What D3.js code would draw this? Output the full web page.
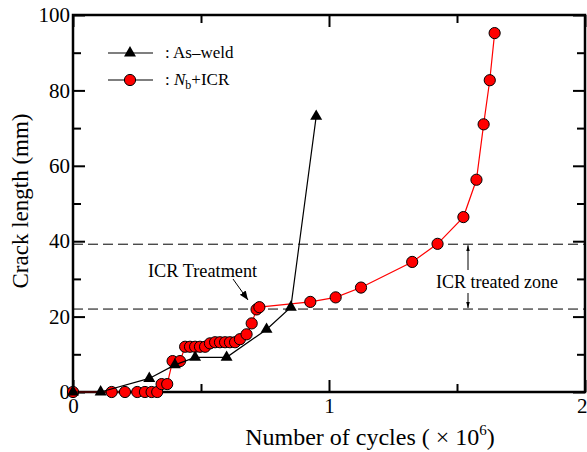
<!DOCTYPE html>
<html>
<head>
<meta charset="utf-8">
<script src="https://cdn.jsdelivr.net/npm/d3@7"></script>
<style>
  html, body { margin: 0; padding: 0; background: #fff; }
  svg { display: block; font-family: "Liberation Serif", "Times New Roman", serif; }
</style>
</head>
<body>
<svg id="chart" width="587" height="452"></svg>
<script>
// Crack growth data: cycles in units of 10^6, crack length in mm
const asWeldCycles = [0, 0.108, 0.298, 0.398, 0.477, 0.600, 0.756, 0.851, 0.950];
const asWeldCrack  = [0, 0, 3.6, 7.2, 9.2, 9.2, 16.6, 22.5, 73.1];

const icrCycles = [0, 0.151, 0.203, 0.251, 0.281, 0.307, 0.329, 0.346, 0.368, 0.389, 0.418,
                   0.438, 0.457, 0.477, 0.496, 0.516, 0.535, 0.555, 0.574, 0.594, 0.613, 0.633,
                   0.652, 0.678, 0.698, 0.717, 0.728, 0.927, 1.026, 1.125, 1.325, 1.424,
                   1.525, 1.576, 1.604, 1.628, 1.647];
const icrCrack  = [0, 0, 0, 0, 0, 0, 0, 2.1, 2.1, 8.2, 8.2,
                   12.0, 12.0, 12.0, 12.0, 12.0, 12.9, 13.2, 13.2, 13.2, 13.2, 13.2,
                   14.0, 15.3, 18.2, 21.9, 22.5, 23.9, 25.1, 27.7, 34.5, 39.3,
                   46.4, 56.3, 71.0, 82.7, 95.2];

// Boundaries of the ICR treated zone (mm)
const zoneBounds = [22.0, 39.2];

const xMajorTicks = [0, 1, 2];
const xMinorTicks = [0.5, 1.5];
const yMajorTicks = [0, 20, 40, 60, 80, 100];
const yMinorTicks = [10, 30, 50, 70, 90];

const seriesNames = ["As\u2013weld", "Nb+ICR"];

const svg = d3.select("#chart");
const plotLeft = 73, plotRight = 585, plotTop = 15, plotBottom = 392;

const x = d3.scaleLinear().domain([0, 2]).range([plotLeft, plotRight]);
const y = d3.scaleLinear().domain([0, 100]).range([plotBottom, plotTop]);

// Dashed boundary lines of the treated zone
svg.append("g").selectAll("line").data(zoneBounds).join("line")
  .attr("x1", x(0)).attr("x2", x(2))
  .attr("y1", d => y(d)).attr("y2", d => y(d))
  .attr("stroke", "#000").attr("stroke-width", 1)
  .attr("stroke-dasharray", "10,5");

// Axes with inward ticks
function styleAxis(g) {
  g.select(".domain").remove();
  g.selectAll(".tick line").attr("stroke", "#000").attr("stroke-width", 2);
  g.selectAll(".tick text").attr("font-size", 21).attr("fill", "#000")
    .attr("font-family", "Liberation Serif, serif");
}

const xAxisG = svg.append("g").attr("transform", `translate(0,${plotBottom})`)
  .call(d3.axisBottom(x).tickValues(xMajorTicks).tickSize(-12).tickPadding(6).tickFormat(d3.format("d")))
  .call(styleAxis);
// keep the last label inside the page edge
xAxisG.selectAll(".tick text").filter(d => d === xMajorTicks[xMajorTicks.length - 1])
  .attr("text-anchor", "end").attr("dx", 2);
svg.append("g").attr("transform", `translate(0,${plotBottom})`)
  .call(d3.axisBottom(x).tickValues(xMinorTicks).tickSize(-8).tickFormat(""))
  .call(styleAxis);
svg.append("g").attr("transform", `translate(0,${plotTop})`)
  .call(d3.axisTop(x).tickValues(xMajorTicks).tickSize(-12).tickFormat(""))
  .call(styleAxis);
svg.append("g").attr("transform", `translate(0,${plotTop})`)
  .call(d3.axisTop(x).tickValues(xMinorTicks).tickSize(-8).tickFormat(""))
  .call(styleAxis);

svg.append("g").attr("transform", `translate(${plotLeft},0)`)
  .call(d3.axisLeft(y).tickValues(yMajorTicks).tickSize(-12).tickPadding(3).tickFormat(d3.format("d")))
  .call(styleAxis);
svg.append("g").attr("transform", `translate(${plotLeft},0)`)
  .call(d3.axisLeft(y).tickValues(yMinorTicks).tickSize(-8).tickFormat(""))
  .call(styleAxis);
svg.append("g").attr("transform", `translate(${plotRight},0)`)
  .call(d3.axisRight(y).tickValues(yMajorTicks).tickSize(-12).tickFormat(""))
  .call(styleAxis);
svg.append("g").attr("transform", `translate(${plotRight},0)`)
  .call(d3.axisRight(y).tickValues(yMinorTicks).tickSize(-8).tickFormat(""))
  .call(styleAxis);

// Plot frame
svg.append("rect")
  .attr("x", plotLeft).attr("y", plotTop)
  .attr("width", plotRight - plotLeft).attr("height", plotBottom - plotTop)
  .attr("fill", "none").attr("stroke", "#000").attr("stroke-width", 2.5);

// Arrow heads
const defs = svg.append("defs");
defs.append("marker").attr("id", "head")
  .attr("viewBox", "0 0 10 10").attr("refX", 10).attr("refY", 5)
  .attr("markerWidth", 9).attr("markerHeight", 9).attr("markerUnits", "userSpaceOnUse")
  .attr("orient", "auto")
  .append("path").attr("d", "M0,1 L10,5 L0,9 Z").attr("fill", "#000");
defs.append("marker").attr("id", "thin")
  .attr("viewBox", "0 0 10 10").attr("refX", 10).attr("refY", 5)
  .attr("markerWidth", 6).attr("markerHeight", 6).attr("markerUnits", "userSpaceOnUse")
  .attr("orient", "auto")
  .append("path").attr("d", "M0,2 L10,5 L0,8 Z").attr("fill", "#000");

const icrData = icrCycles.map((c, i) => [c, icrCrack[i]]);
const weldData = asWeldCycles.map((c, i) => [c, asWeldCrack[i]]);
const line = d3.line().x(d => x(d[0])).y(d => y(d[1]));

// Nb+ICR series
svg.append("path").datum(icrData).attr("d", line)
  .attr("fill", "none").attr("stroke", "#ff0000").attr("stroke-width", 1.2);
svg.append("g").selectAll("circle").data(icrData).join("circle")
  .attr("cx", d => x(d[0])).attr("cy", d => y(d[1])).attr("r", 5.6)
  .attr("fill", "#ff0000").attr("stroke", "#000").attr("stroke-width", 1);

// As-weld series
const tri = d3.symbol().type(d3.symbolTriangle).size(62);
svg.append("path").datum(weldData).attr("d", line)
  .attr("fill", "none").attr("stroke", "#000").attr("stroke-width", 1.2);
svg.append("g").selectAll("path").data(weldData).join("path")
  .attr("d", tri)
  .attr("transform", d => `translate(${x(d[0])},${y(d[1])})`)
  .attr("fill", "#000");

// Legend
const legend = svg.append("g").attr("font-size", 17);
const legendRows = [53, 80];
legendRows.forEach(ly => {
  legend.append("line").attr("x1", 108).attr("x2", 153).attr("y1", ly).attr("y2", ly)
    .attr("stroke", "#000").attr("stroke-width", 1.2);
});
legend.append("path").attr("d", tri).attr("transform", `translate(130,${legendRows[0]})`).attr("fill", "#000");
legend.append("circle").attr("cx", 130).attr("cy", legendRows[1]).attr("r", 5.6)
  .attr("fill", "#ff0000").attr("stroke", "#000");
legend.append("text").attr("x", 165).attr("y", legendRows[0] + 5).text(": " + seriesNames[0]);
const t2 = legend.append("text").attr("x", 165).attr("y", legendRows[1] + 5);
t2.append("tspan").text(": ");
t2.append("tspan").attr("font-style", "italic").text("N");
t2.append("tspan").attr("font-size", 12).attr("dy", 4).text("b");
t2.append("tspan").attr("dy", -4).text("+ICR");

// Annotations
svg.append("text").attr("x", 148).attr("y", 277).attr("font-size", 18.3).text("ICR Treatment");
svg.append("line").attr("x1", 233).attr("y1", 279).attr("x2", 248).attr("y2", 300)
  .attr("stroke", "#000").attr("stroke-width", 1).attr("marker-end", "url(#head)");

svg.append("text").attr("x", 436).attr("y", 288).attr("font-size", 18).text("ICR treated zone");
const zx = 468;
svg.append("line").attr("x1", zx).attr("x2", zx).attr("y1", 270).attr("y2", y(zoneBounds[1]) + 1)
  .attr("stroke", "#000").attr("stroke-width", 1).attr("marker-end", "url(#thin)");
svg.append("line").attr("x1", zx).attr("x2", zx).attr("y1", 293).attr("y2", y(zoneBounds[0]) - 1)
  .attr("stroke", "#000").attr("stroke-width", 1).attr("marker-end", "url(#thin)");

// Axis titles
svg.append("text")
  .attr("transform", "translate(28,201) rotate(-90)")
  .attr("text-anchor", "middle").attr("font-size", 23).text("Crack length (mm)");
const xt = svg.append("text").attr("x", 370).attr("y", 445)
  .attr("text-anchor", "middle").attr("font-size", 24);
xt.append("tspan").text("Number of cycles ( \u00d7 10");
xt.append("tspan").attr("font-size", 15).attr("dy", -10).text("6");
xt.append("tspan").attr("dy", 10).text(")");
</script>
</body>
</html>
